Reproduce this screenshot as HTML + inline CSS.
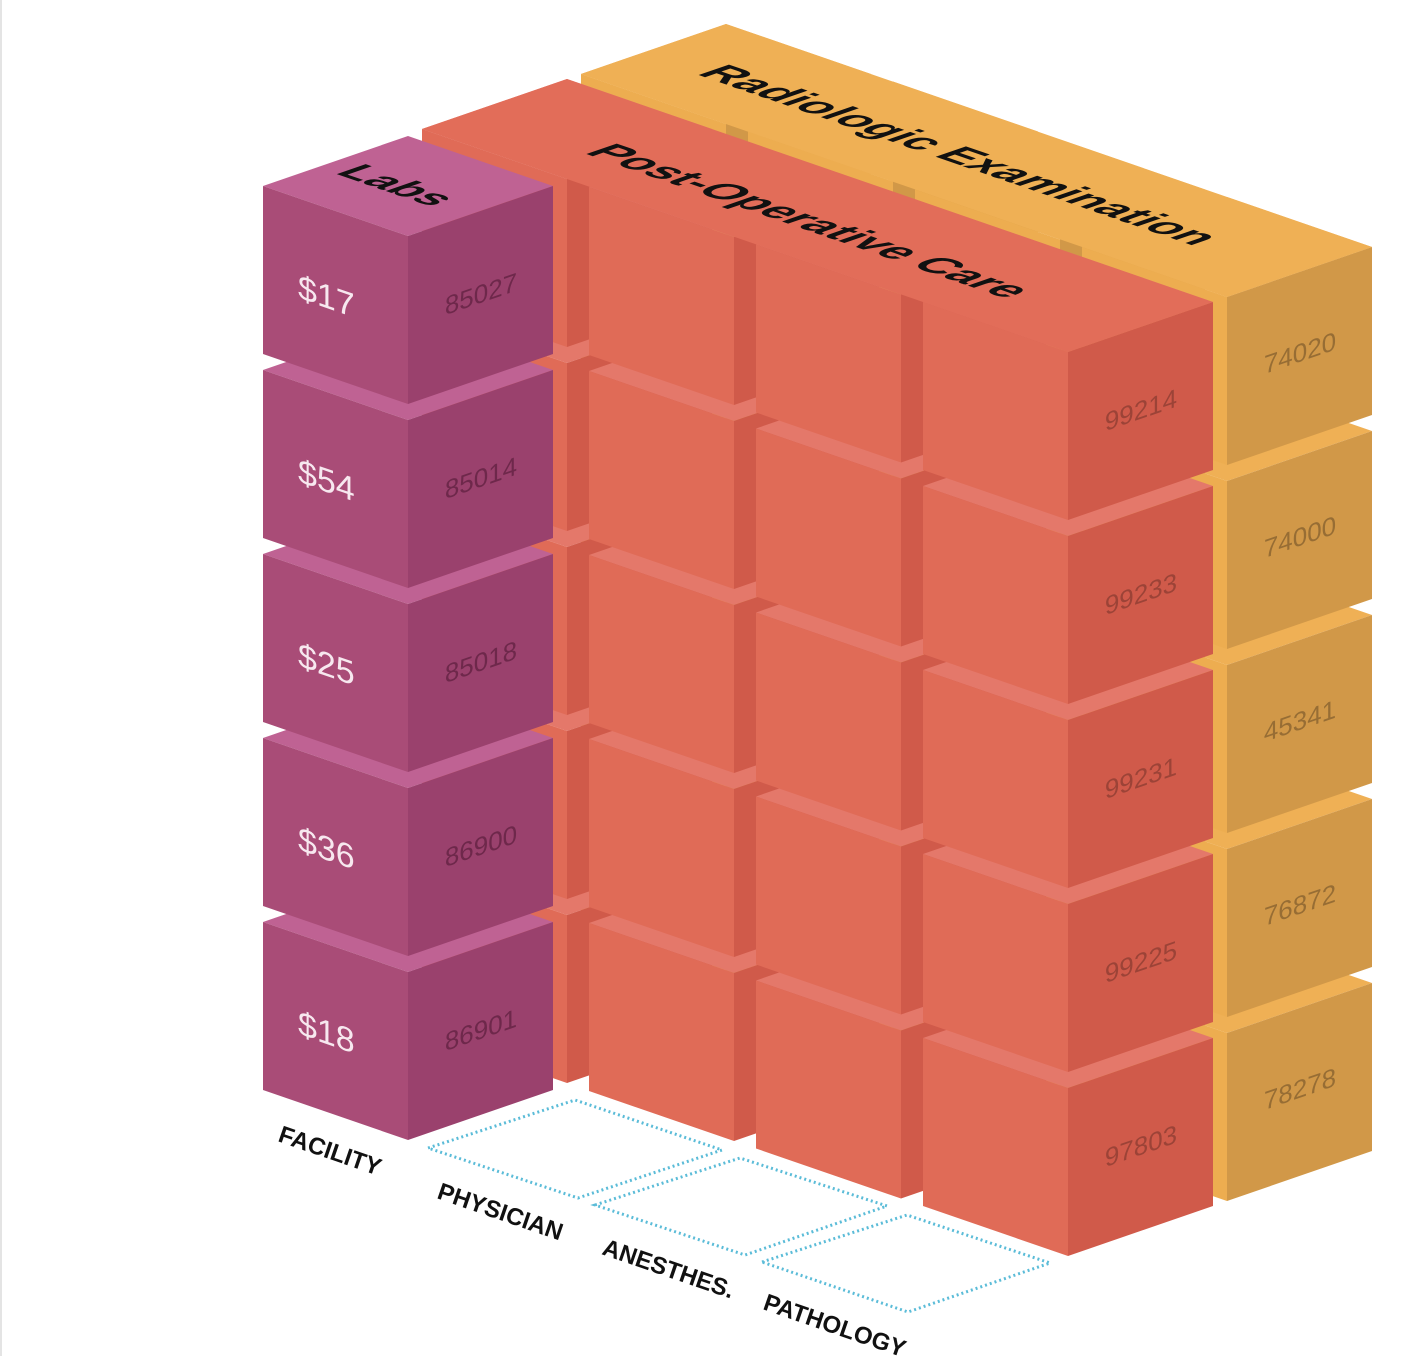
<!DOCTYPE html>
<html><head><meta charset="utf-8"><style>
html,body{margin:0;padding:0;background:#fff;}
svg{display:block;}
text{font-family:"Liberation Sans","DejaVu Sans",sans-serif;}
</style></head><body>
<svg width="1420" height="1356" viewBox="0 0 1420 1356" xmlns="http://www.w3.org/2000/svg">
<defs>
<g id="cR">
<polygon points="-145,-50 0,-100 145,-50 0,0" fill="#e4786a"/>
<polygon points="-145,-50 0,0 0,168 -145,118" fill="#e06b57"/>
<polygon points="0,0 145,-50 145,118 0,168" fill="#d05a4a"/>
</g>
<g id="cO">
<polygon points="-145,-50 0,-100 145,-50 0,0" fill="#efb055"/>
<polygon points="-145,-50 0,0 0,168 -145,118" fill="#edad50"/>
<polygon points="0,0 145,-50 145,118 0,168" fill="#d19848"/>
</g>
<g id="cL">
<polygon points="-145,-50 0,-100 145,-50 0,0" fill="#bf6293"/>
<polygon points="-145,-50 0,0 0,168 -145,118" fill="#a94c77"/>
<polygon points="0,0 145,-50 145,118 0,168" fill="#9a416d"/>
</g>
</defs>
<rect x="0" y="0" width="2" height="1356" fill="#e4e4e4"/>

<!-- orange block -->
<g>
<use href="#cO" x="726" y="860"/><use href="#cO" x="726" y="676"/><use href="#cO" x="726" y="492"/><use href="#cO" x="726" y="308"/><use href="#cO" x="726" y="124"/>
<use href="#cO" x="893" y="917.5"/><use href="#cO" x="893" y="733.5"/><use href="#cO" x="893" y="549.5"/><use href="#cO" x="893" y="365.5"/><use href="#cO" x="893" y="181.5"/>
<use href="#cO" x="1060" y="975.5"/><use href="#cO" x="1060" y="791.5"/><use href="#cO" x="1060" y="607.5"/><use href="#cO" x="1060" y="423.5"/><use href="#cO" x="1060" y="239.5"/>
<use href="#cO" x="1227" y="1033"/><use href="#cO" x="1227" y="849"/><use href="#cO" x="1227" y="665"/><use href="#cO" x="1227" y="481"/><use href="#cO" x="1227" y="297"/>
</g>
<polygon points="581,74 726,24 1372,247 1227,297" fill="#efb055"/>
<g font-size="26" fill="#000" fill-opacity="0.28" text-anchor="middle">
<text transform="matrix(1,-0.345,0,1,1227,297)" x="73" y="90">74020</text>
<text transform="matrix(1,-0.345,0,1,1227,481)" x="73" y="90">74000</text>
<text transform="matrix(1,-0.345,0,1,1227,665)" x="73" y="90">45341</text>
<text transform="matrix(1,-0.345,0,1,1227,849)" x="73" y="90">76872</text>
<text transform="matrix(1,-0.345,0,1,1227,1033)" x="73" y="90">78278</text>
</g>
<text transform="matrix(1,0.345,-1,0.345,945,160)" x="0" y="0" font-size="44" font-weight="bold" text-anchor="middle" fill="#111">Radiologic Examination</text>

<!-- red block -->
<g>
<use href="#cR" x="567" y="915"/><use href="#cR" x="567" y="731"/><use href="#cR" x="567" y="547"/><use href="#cR" x="567" y="363"/><use href="#cR" x="567" y="179"/>
<use href="#cR" x="734" y="973"/><use href="#cR" x="734" y="789"/><use href="#cR" x="734" y="605"/><use href="#cR" x="734" y="421"/><use href="#cR" x="734" y="237"/>
<use href="#cR" x="901" y="1030.5"/><use href="#cR" x="901" y="846.5"/><use href="#cR" x="901" y="662.5"/><use href="#cR" x="901" y="478.5"/><use href="#cR" x="901" y="294.5"/>
<use href="#cR" x="1068" y="1088"/><use href="#cR" x="1068" y="904"/><use href="#cR" x="1068" y="720"/><use href="#cR" x="1068" y="536"/><use href="#cR" x="1068" y="352"/>
</g>
<polygon points="422,129 567,79 1213,302 1068,352" fill="#e26d59"/>
<g font-size="26" fill="#000" fill-opacity="0.25" text-anchor="middle">
<text transform="matrix(1,-0.345,0,1,1068,352)" x="73" y="92">99214</text>
<text transform="matrix(1,-0.345,0,1,1068,536)" x="73" y="92">99233</text>
<text transform="matrix(1,-0.345,0,1,1068,720)" x="73" y="92">99231</text>
<text transform="matrix(1,-0.345,0,1,1068,904)" x="73" y="92">99225</text>
<text transform="matrix(1,-0.345,0,1,1068,1088)" x="73" y="92">97803</text>
</g>
<text transform="matrix(1,0.345,-1,0.345,795,226)" x="0" y="0" font-size="44" font-weight="bold" text-anchor="middle" fill="#111">Post-Operative Care</text>

<!-- labs -->
<g>
<use href="#cL" x="408" y="972"/><use href="#cL" x="408" y="788"/><use href="#cL" x="408" y="604"/><use href="#cL" x="408" y="420"/><use href="#cL" x="408" y="236"/>
</g>
<g font-size="26" fill="#3a0a22" fill-opacity="0.45" text-anchor="middle">
<text transform="matrix(1,-0.345,0,1,408,236)" x="73" y="92">85027</text>
<text transform="matrix(1,-0.345,0,1,408,420)" x="73" y="92">85014</text>
<text transform="matrix(1,-0.345,0,1,408,604)" x="73" y="92">85018</text>
<text transform="matrix(1,-0.345,0,1,408,788)" x="73" y="92">86900</text>
<text transform="matrix(1,-0.345,0,1,408,972)" x="73" y="92">86901</text>
</g>
<g font-size="34" fill="#f7e8ef">
<text transform="matrix(1,0.345,0,1,263,186)" x="35" y="100">$17</text>
<text transform="matrix(1,0.345,0,1,263,370)" x="35" y="100">$54</text>
<text transform="matrix(1,0.345,0,1,263,554)" x="35" y="100">$25</text>
<text transform="matrix(1,0.345,0,1,263,738)" x="35" y="100">$36</text>
<text transform="matrix(1,0.345,0,1,263,922)" x="35" y="100">$18</text>
</g>
<text transform="matrix(1,0.345,-1,0.345,383,190)" x="0" y="0" font-size="42" font-weight="bold" text-anchor="middle" fill="#111">Labs</text>

<!-- floor grid -->
<g fill="none" stroke="#5bbcd8" stroke-width="3" stroke-dasharray="2 3">
<polygon points="428,1148 575,1100 722,1150 578,1198"/>
<polygon points="595,1205 740,1158 887,1206 745,1255"/>
<polygon points="762,1262 907,1215 1050,1263 908,1312"/>
</g>
<g font-size="24" font-weight="bold" fill="#111">
<text transform="translate(277,1141) rotate(19)">FACILITY</text>
<text transform="translate(436,1198) rotate(19)">PHYSICIAN</text>
<text transform="translate(601,1254) rotate(19)">ANESTHES.</text>
<text transform="translate(762,1309) rotate(19)">PATHOLOGY</text>
</g>
</svg>
</body></html>
